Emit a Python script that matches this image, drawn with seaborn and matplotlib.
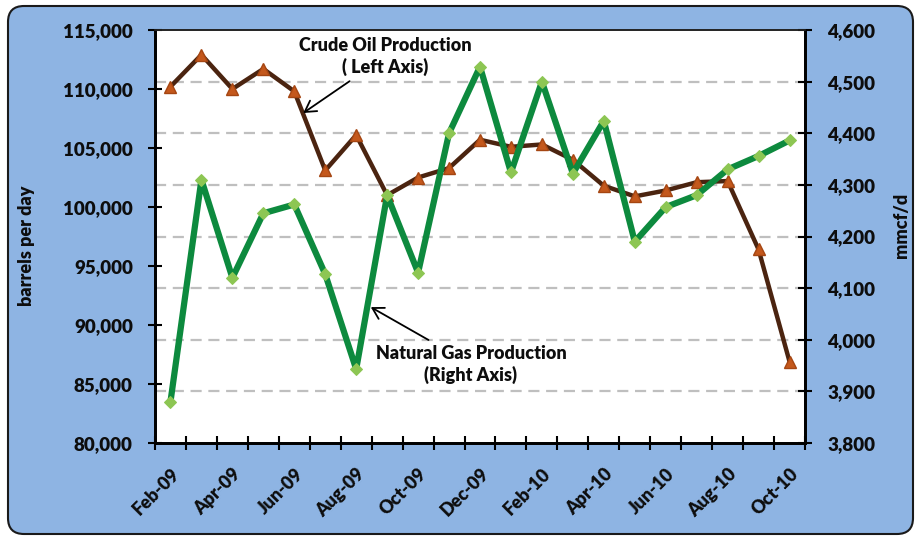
import matplotlib
matplotlib.use("Agg")
import matplotlib.pyplot as plt
import seaborn as sns
from matplotlib.patches import FancyBboxPatch
from matplotlib.ticker import FuncFormatter, FixedLocator, MultipleLocator, NullFormatter

# data
months = ["Feb-09", "Mar-09", "Apr-09", "May-09", "Jun-09", "Jul-09", "Aug-09",
          "Sep-09", "Oct-09", "Nov-09", "Dec-09", "Jan-10", "Feb-10", "Mar-10",
          "Apr-10", "May-10", "Jun-10", "Jul-10", "Aug-10", "Sep-10", "Oct-10"]
crude_oil = [110200, 112900, 110000, 111700, 109800, 103100, 106100, 101000,
             102500, 103300, 105700, 105100, 105300, 104000, 101800, 100900,
             101400, 102100, 102200, 96400, 86900]
natural_gas = [3880, 4310, 4120, 4245, 4262, 4127, 3943, 4280, 4130, 4400,
               4529, 4324, 4500, 4322, 4424, 4190, 4257, 4280, 4330, 4356, 4386]

idx = list(range(len(months)))

sns.set_theme(style="white")
plt.rcParams['font.family'] = ['Lato', 'DejaVu Sans']
plt.rcParams['font.weight'] = 'heavy'
for key in ('text.color', 'axes.labelcolor', 'xtick.color', 'ytick.color'):
    plt.rcParams[key] = '#0d0d0d'

W = 'heavy'

fig = plt.figure(figsize=(9.22, 5.39), dpi=100)
fig.patch.set_facecolor('white')
bg = FancyBboxPatch((8, 5), 905, 528, boxstyle="round,pad=0,rounding_size=16",
                    transform=None, fc='#8EB4E3', ec='#1a1a1a', lw=1.5, zorder=0)
fig.add_artist(bg)

ax1 = fig.add_axes([155 / 922, 96 / 539, 650 / 922, 413 / 539])
ax1.set_facecolor('white')
ax2 = ax1.twinx()
ax2.patch.set_visible(False)

# limits first so the grid transform is valid
ax1.set_xlim(-0.5, len(months) - 0.5)
ax1.set_ylim(80000, 115000)
ax2.set_ylim(3800, 4600)

# dashed grid comes from the right axis but must sit under the crude line
grid_vals = list(range(3900, 4600, 100))
ax1.hlines(grid_vals, -0.5, len(months) - 0.5, transform=ax2.transData,
           colors='#bfbfbf', linestyles=(0, (5, 3)), lw=1.6, zorder=1)

sns.lineplot(x=idx, y=crude_oil, ax=ax1, color='#4B2410', lw=3.2,
             marker='^', markersize=9, markerfacecolor='#C4581C',
             markeredgecolor='#A54612', markeredgewidth=1, zorder=3)
sns.lineplot(x=idx, y=natural_gas, ax=ax2, color='#0D8A3E', lw=4.5,
             marker='D', markersize=6.5, markerfacecolor='#8DC653',
             markeredgecolor='#8DC653', zorder=3)

ax1.set_xlim(-0.5, len(months) - 0.5)
ax1.set_ylim(80000, 115000)
ax2.set_ylim(3800, 4600)

# x axis: ticks between months, labels every second month
ax1.xaxis.set_major_locator(FixedLocator([i - 0.5 for i in range(len(months) + 1)]))
ax1.xaxis.set_major_formatter(NullFormatter())
ax1.set_xticks(idx[::2], minor=True)
ax1.set_xticklabels(months[::2], minor=True, rotation=45, ha='right',
                    va='top', rotation_mode='anchor', fontsize=13, fontweight=W)
ax1.tick_params(axis='x', which='minor', length=0, pad=16)
ax1.tick_params(axis='x', which='major', direction='inout', length=10, width=1.5,
                color='black', bottom=True)

comma = FuncFormatter(lambda v, p: f"{v:,.0f}")
ax1.yaxis.set_major_locator(MultipleLocator(5000))
ax1.yaxis.set_major_formatter(comma)
ax2.yaxis.set_major_locator(MultipleLocator(100))
ax2.yaxis.set_major_formatter(comma)
for ax in (ax1, ax2):
    ax.tick_params(axis='y', direction='inout', length=10, width=1.5, color='black',
                   labelsize=13.5, pad=11)
    for lab in ax.get_yticklabels():
        lab.set_fontweight(W)
    for side in ('left', 'right', 'bottom'):
        ax.spines[side].set_color('black')
        ax.spines[side].set_linewidth(2)
    ax.spines['top'].set_color('#222222')
    ax.spines['top'].set_linewidth(1.2)
ax1.tick_params(axis='y', left=True)
ax2.tick_params(axis='y', right=True)

ax1.set_xlabel('')
ax1.set_ylabel('barrels per day', fontsize=13, fontweight=W)
ax1.yaxis.set_label_coords(-0.185, 0.477)
ax2.set_ylabel('mmcf/d', fontsize=13, fontweight=W)
ax2.yaxis.set_label_coords(1.148, 0.528)
ax2.yaxis.label.set_rotation(90)
ax2.yaxis.label.set_va('center')
ax2.yaxis.label.set_ha('center')

arrow = dict(arrowstyle='->,head_length=0.6,head_width=0.35', color='black', lw=1.3,
             shrinkA=2, shrinkB=0)
ax2.annotate('Crude Oil Production\n( Left Axis)', xy=(0.228, 0.799),
             xycoords='axes fraction', xytext=(0.354, 0.935), textcoords='axes fraction',
             ha='center', va='center', fontsize=13, fontweight=W,
             linespacing=1.25, arrowprops=arrow, zorder=6)
ax2.annotate('Natural Gas Production\n(Right Axis)', xy=(0.332, 0.329),
             xycoords='axes fraction', xytext=(0.486, 0.191), textcoords='axes fraction',
             ha='center', va='center', fontsize=13, fontweight=W,
             linespacing=1.25, arrowprops=arrow, zorder=6)

fig.savefig('out.png', dpi=100, facecolor=fig.get_facecolor())
plt.close(fig)
